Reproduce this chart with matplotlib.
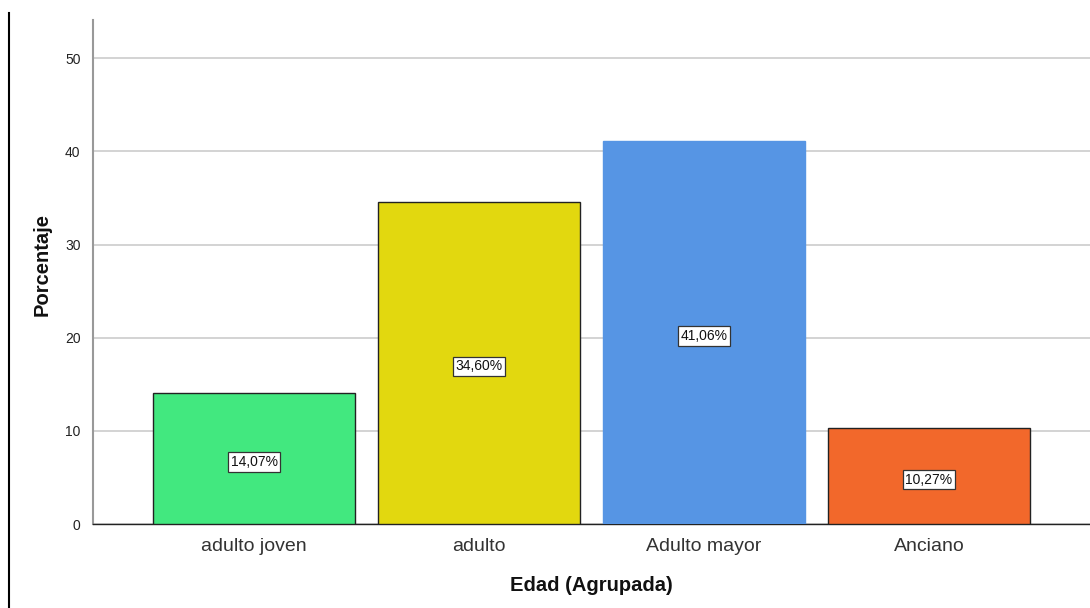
import matplotlib
matplotlib.use("Agg")
import matplotlib.pyplot as plt
from matplotlib.lines import Line2D

categories = ["adulto joven", "adulto", "Adulto mayor", "Anciano"]
values = [14.07, 34.60, 41.06, 10.27]
labels = ["14,07%", "34,60%", "41,06%", "10,27%"]
colors = ["#42E87F", "#E2D80F", "#5695E4", "#F2682B"]
edges = ["#222222", "#222222", "#5695E4", "#222222"]
yticks = [0, 10, 20, 30, 40, 50]

plt.rcParams['font.family'] = ['Liberation Sans', 'DejaVu Sans']

fig = plt.figure(figsize=(10.9, 6.08), dpi=100)
ax = fig.add_axes([93/1090, 1 - 524/608, (1090 - 93)/1090, (524 - 20)/608])

x = list(range(len(categories)))
ax.bar(x, values, width=0.9, color=colors, edgecolor=edges, linewidth=1.0, zorder=3)
for xi, v, lab in zip(x, values, labels):
    ax.annotate(lab, (xi, v / 2), xytext=(0, -2.5), textcoords='offset points',
                ha='center', va='center', fontsize=10, zorder=4, color='#111111',
                bbox=dict(boxstyle='square,pad=0.2', facecolor='white', edgecolor='#333333', linewidth=0.9))

ax.set_xlim(-0.716, 3.716)
ax.set_ylim(0, 54.1)
ax.set_yticks(yticks)
ax.set_xticks(x)
ax.set_xticklabels(categories, fontsize=14, color='#333333')
ax.tick_params(axis='y', labelsize=10, length=0, pad=9, colors='#222222')
ax.tick_params(axis='x', length=0, pad=10)
ax.yaxis.grid(True, color='#CCCCCC', linewidth=1.2, zorder=0)
ax.set_axisbelow(True)
for s in ['top', 'right']:
    ax.spines[s].set_visible(False)
ax.spines['left'].set_color('#999999')
ax.spines['left'].set_linewidth(1.5)
ax.spines['bottom'].set_color('#222222')
ax.spines['bottom'].set_linewidth(1.0)

ax.set_xlabel("Edad (Agrupada)", fontsize=14.5, fontweight='bold', color='#111111')
ax.xaxis.set_label_coords(0.4995, -0.123)
ax.xaxis.label.set_va('center')
ax.set_ylabel("Porcentaje", fontsize=14.5, fontweight='bold', color='#111111')
ax.yaxis.set_label_coords(-0.0512, 0.514)
ax.yaxis.label.set_va('center')

fig.add_artist(Line2D([9/1090, 9/1090], [0, 1 - 13/608], color='black', linewidth=1.5))

fig.savefig("out.png", dpi=100)
